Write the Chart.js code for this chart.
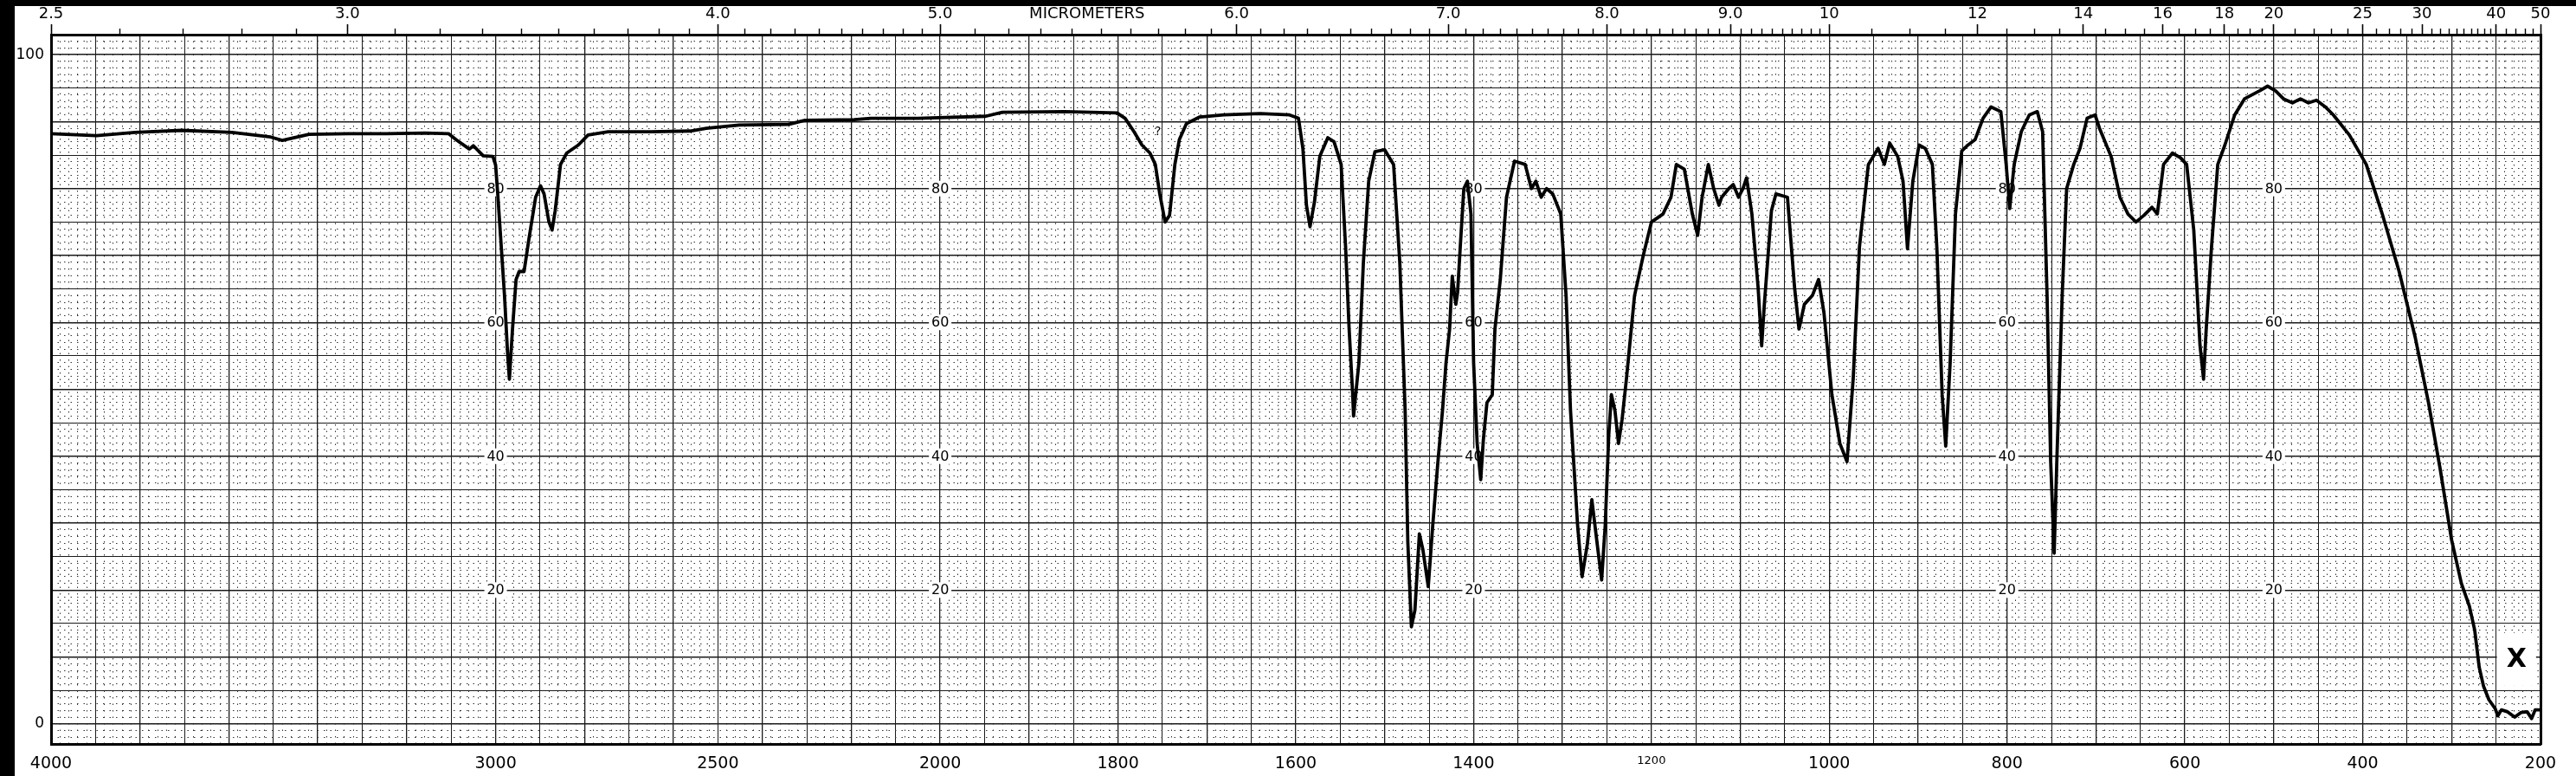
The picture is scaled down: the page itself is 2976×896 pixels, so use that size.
<!DOCTYPE html>
<html>
<head>
<meta charset="utf-8">
<script src="https://cdn.jsdelivr.net/npm/chart.js@4"></script>
<style>
  html, body { margin: 0; padding: 0; background: #fff; overflow: hidden; }
  canvas { display: block; }
</style>
</head>
<body>
<canvas id="spectrum" width="2976" height="896"></canvas>
<script>
// spectrum: wavenumber (cm-1) and % transmittance
const wavenumber = [
  4000, 3898, 3811, 3706, 3593, 3506, 3480, 3420, 3332, 3246,
  3158, 3106, 3089, 3059, 3050, 3028, 3006, 3000, 2995, 2980,
  2973, 2969, 2962, 2954, 2947, 2936, 2925, 2910, 2899, 2891,
  2880, 2873, 2866, 2854, 2840, 2814, 2792, 2747, 2650, 2562,
  2526, 2452, 2341, 2304, 2193, 2156, 2050, 1949, 1930, 1860,
  1801, 1792, 1782, 1773, 1764, 1758, 1753, 1747, 1742, 1736,
  1731, 1723, 1708, 1681, 1640, 1607, 1597, 1592, 1588, 1584,
  1579, 1573, 1564, 1557, 1549, 1544, 1540, 1536, 1535, 1529,
  1524, 1518, 1511, 1500, 1490, 1483, 1477, 1474, 1470, 1466,
  1461, 1457, 1451, 1446, 1440, 1435, 1431, 1427, 1424, 1420,
  1418, 1415, 1411, 1407, 1403, 1400, 1396, 1392, 1389, 1385,
  1379, 1376, 1370, 1363, 1354, 1342, 1335, 1330, 1324, 1318,
  1311, 1302, 1296, 1291, 1283, 1278, 1272, 1267, 1261, 1256,
  1252, 1248, 1245, 1241, 1237, 1233, 1228, 1219, 1209, 1200,
  1187, 1178, 1172, 1163, 1154, 1148, 1143, 1136, 1130, 1124,
  1121, 1113, 1108, 1102, 1097, 1093, 1087, 1080, 1076, 1073,
  1065, 1060, 1047, 1039, 1034, 1028, 1019, 1012, 1006, 997,
  988, 980, 973, 966, 956, 945, 938, 932, 923, 917,
  912, 906, 899, 892, 884, 879, 873, 869, 864, 858,
  851, 844, 836, 827, 818, 807, 801, 797, 792, 784,
  775, 766, 760, 755, 751, 747, 744, 738, 733, 725,
  718, 710, 701, 696, 683, 673, 664, 655, 646, 637,
  631, 624, 614, 605, 598, 590, 583, 579, 576, 570,
  563, 555, 544, 533, 516, 507, 498, 489, 479, 470,
  461, 452, 442, 433, 415, 396, 378, 359, 341, 326,
  313, 300, 289, 280, 274, 269, 264, 258, 251, 248,
  244, 237, 229, 222, 215, 210, 206, 200
];
const transmittance = [
  88.2, 87.9, 88.4, 88.7, 88.4, 87.7, 87.2, 88.1, 88.2, 88.2,
  88.3, 88.2, 87.3, 85.9, 86.4, 84.9, 84.8, 83.5, 79, 64,
  55.3, 51.5, 59, 66.4, 67.6, 67.6, 72.5, 78.7, 80.4, 79.2,
  75, 73.8, 76.7, 83.6, 85.3, 86.5, 88, 88.5, 88.5, 88.6,
  89, 89.5, 89.6, 90.2, 90.3, 90.5, 90.5, 90.8, 91.4, 91.5,
  91.3, 90.5, 88.5, 86.5, 85.3, 83.6, 79.2, 75, 76, 83.6,
  87.3, 89.7, 90.7, 91, 91.2, 91, 90.5, 86, 77.5, 74.3,
  78, 84.8, 87.6, 87, 83.6, 71.3, 59, 49.2, 46, 54,
  68.9, 81.1, 85.5, 85.8, 83.6, 68.9, 46.8, 27.2, 14.5, 17,
  28.4, 26, 20.5, 29.6, 39.4, 46.8, 54, 59, 66.9, 62.7,
  64.5, 71.3, 80, 81.1, 76.2, 54, 41.9, 36.5, 42.5, 48,
  49.2, 59, 66.4, 78.7, 84.1, 83.6, 80, 81.1, 78.7, 80,
  79.2, 76.2, 64, 46.8, 29.6, 22, 26.9, 33.5, 26.9, 21.5,
  29.6, 43.1, 49.2, 46.8, 41.9, 45.5, 51.7, 64, 70.1, 75,
  76.2, 78.7, 83.6, 82.9, 76.2, 73, 78.7, 83.6, 80, 77.5,
  78.7, 80, 80.6, 78.7, 80, 81.6, 76.2, 65.2, 56.5, 62.7,
  76.7, 79.2, 78.7, 65.2, 59, 62.7, 64, 66.4, 61.5, 49.2,
  41.9, 39.2, 51.7, 71.3, 83.6, 86, 83.6, 86.8, 84.8, 81.1,
  71, 81.1, 86.5, 86, 83.6, 71.3, 49.2, 41.5, 54, 76.2,
  85.6, 86.5, 87.3, 90.5, 92.2, 91.5, 83.6, 77, 83.6, 88.5,
  91, 91.5, 88.5, 64, 39.4, 25.5, 39.4, 64, 80, 83.6,
  86, 90.5, 91, 89, 84.8, 78.7, 76.2, 75, 76, 77.2,
  76.2, 83.6, 85.3, 84.6, 83.6, 73.8, 56.6, 51.5, 59, 71.3,
  83.6, 86.5, 91, 93.4, 94.6, 95.3, 94.6, 93.4, 92.8, 93.4,
  92.8, 93.2, 92.2, 91, 88, 83.6, 76.2, 67.6, 57.8, 48,
  38.2, 27.5, 21, 17.6, 14, 8.5, 5.6, 3.6, 2.3, 1.2,
  2.1, 1.8, 1.0, 1.7, 1.8, 0.8, 2.1, 2.1
];

// bottom axis labels (cm-1)
const wavenumberTicks = [4000, 3000, 2500, 2000, 1800, 1600, 1400, 1200, 1000, 800, 600, 400, 200];
// top axis labels (micrometers)
const micrometerTicks = [2.5, 3.0, 4.0, 5.0, 6.0, 7.0, 8.0, 9.0, 10, 12, 14, 16, 18, 20, 25, 30, 40, 50];
const micrometerLabels = ['2.5', '3.0', '4.0', '5.0', '6.0', '7.0', '8.0', '9.0', '10', '12', '14', '16', '18', '20', '25', '30', '40', '50'];
const micrometerMinor = [
  2.6, 2.7, 2.8, 2.9, 3.1, 3.2, 3.3, 3.4, 3.5, 3.6, 3.7, 3.8, 3.9,
  4.1, 4.2, 4.3, 4.4, 4.5, 4.6, 4.7, 4.8, 4.9, 5.1, 5.2, 5.3, 5.4, 5.5, 5.6, 5.7, 5.8, 5.9,
  6.1, 6.2, 6.3, 6.4, 6.5, 6.6, 6.7, 6.8, 6.9, 7.1, 7.2, 7.3, 7.4, 7.5, 7.6, 7.7, 7.8, 7.9,
  8.1, 8.2, 8.3, 8.4, 8.5, 8.6, 8.7, 8.8, 8.9, 9.1, 9.2, 9.3, 9.4, 9.5, 9.6, 9.7, 9.8, 9.9,
  10.5, 11, 11.5, 12.5, 13, 13.5, 14.5, 15, 15.5, 16.5, 17, 17.5, 18.5, 19, 19.5,
  21, 22, 23, 24, 26, 27, 28, 29, 31, 32, 33, 34, 35, 36, 37, 38, 39, 42, 44, 46, 48
];
const micrometerTitle = 'MICROMETERS';
const micrometerTitleAt = 5.45;

// % labels printed inside the grid, and the wavenumber columns that carry them
const innerLabelValues = [80, 60, 40, 20];
const innerLabelColumns = [3000, 2000, 1400, 800, 500];

const FONT = "'DejaVu Sans', sans-serif";

// chart paper changes scale at 2000 cm-1 (4000-2000 is half as wide per cm-1)
function toU(w) {
  return w >= 2000 ? (4000 - w) / 2 : 1000 + (2000 - w);
}

function fixedTicks(values) {
  return scale => { scale.ticks = values.map(v => ({ value: v })); };
}

// grid line positions
const xMajorGrid = [];
const xMinorGrid = [];
for (let u = 0; u <= 2800; u += 10) {
  if (u % 50 === 0) xMajorGrid.push(u); else xMinorGrid.push(u);
}
const yMajorGrid = [];
const yMinorGrid = [];
for (let t = -3; t <= 103; t++) {
  if (t % 5 === 0 && t >= 0 && t <= 100) yMajorGrid.push(t); else yMinorGrid.push(t);
}

const topPositions = [];
const topLabels = [];
micrometerTicks.forEach((m, i) => {
  topPositions.push(toU(10000 / m));
  topLabels.push(micrometerLabels[i]);
  if (m === 5.0) {
    topPositions.push(toU(10000 / micrometerTitleAt));
    topLabels.push(micrometerTitle);
  }
});

const paperPlugin = {
  id: 'paper',
  beforeDraw(chart) {
    const ctx = chart.ctx;
    ctx.save();
    ctx.fillStyle = '#fff';
    ctx.fillRect(0, 0, chart.width, chart.height);
    ctx.restore();
  },
  beforeDatasetsDraw(chart) {
    const ctx = chart.ctx;
    const x = chart.scales.x;
    const y = chart.scales.y;
    ctx.save();
    // printed % values on the grid
    ctx.font = '16px ' + FONT;
    ctx.textAlign = 'center';
    ctx.textBaseline = 'middle';
    innerLabelColumns.forEach(w => {
      const px = x.getPixelForValue(toU(w));
      innerLabelValues.forEach(v => {
        const py = y.getPixelForValue(v);
        ctx.fillStyle = '#fff';
        ctx.fillRect(px - 13, py - 9, 26, 18);
        ctx.fillStyle = '#000';
        ctx.fillText(String(v), px, py + 1);
      });
    });
    // sample tag box
    const bx1 = x.getPixelForValue(toU(249));
    const bx2 = x.getPixelForValue(toU(205));
    const by1 = y.getPixelForValue(13.6);
    const by2 = y.getPixelForValue(5.7);
    ctx.fillStyle = '#fff';
    ctx.fillRect(bx1, by1, bx2 - bx1, by2 - by1);
    ctx.fillStyle = '#000';
    ctx.font = 'bold 30px ' + FONT;
    ctx.fillText('X', (bx1 + bx2) / 2, (by1 + by2) / 2 + 1);
    // pencilled question mark
    ctx.font = '14px ' + FONT;
    ctx.fillText('?', x.getPixelForValue(toU(1755)), y.getPixelForValue(88.5));
    ctx.restore();
  },
  afterDraw(chart) {
    const ctx = chart.ctx;
    ctx.save();
    ctx.fillStyle = '#000';
    ctx.fillRect(0, 0, 17, chart.height);
    ctx.fillRect(0, 0, chart.width, 7);
    ctx.restore();
  }
};

const ctx = document.getElementById('spectrum').getContext('2d');
const chart = new Chart(ctx, {
  type: 'line',
  data: {
    datasets: [{
      data: wavenumber.map((w, i) => ({ x: toU(w), y: transmittance[i] })),
      borderColor: '#000',
      borderWidth: 3.8,
      pointRadius: 0,
      tension: 0,
      fill: false,
      borderJoinStyle: 'round',
      xAxisID: 'x',
      yAxisID: 'y'
    }]
  },
  options: {
    responsive: false,
    animation: false,
    devicePixelRatio: 1,
    layout: { padding: { left: 0, right: 41, top: 0, bottom: 0 } },
    plugins: { legend: { display: false }, tooltip: { enabled: false } },
    scales: {
      x: {
        type: 'linear', position: 'bottom', min: 0, max: 2800, weight: 1,
        afterBuildTicks: fixedTicks(wavenumberTicks.map(toU)),
        afterFit: s => { s.height = 37; },
        ticks: {
          autoSkip: false, maxRotation: 0, padding: 12, color: '#000',
          font: c => ({ family: FONT, size: wavenumberTicks[c.index] === 1200 ? 13 : 19 }),
          callback: (v, i) => String(wavenumberTicks[i])
        },
        grid: { drawOnChartArea: false, drawTicks: false },
        border: { display: true, color: '#000', width: 3 }
      },
      xg: {
        type: 'linear', position: 'bottom', min: 0, max: 2800, weight: 0,
        afterBuildTicks: fixedTicks(xMajorGrid),
        afterFit: s => { s.height = 0; },
        ticks: { display: false },
        grid: { color: '#1a1a1a', lineWidth: c => (c.tick && c.tick.value % 100 === 0) ? 1.3 : 1, drawTicks: false },
        border: { display: false }
      },
      xm: {
        type: 'linear', position: 'bottom', min: 0, max: 2800, weight: 0,
        afterBuildTicks: fixedTicks(xMinorGrid),
        afterFit: s => { s.height = 0; },
        ticks: { display: false },
        grid: { color: '#333', lineWidth: 1, drawTicks: false },
        border: { display: false, dash: [1.5, 6] }
      },
      xTop: {
        type: 'linear', position: 'top', min: 0, max: 2800, weight: 1,
        afterBuildTicks: fixedTicks(topPositions),
        afterFit: s => { s.height = 40; },
        ticks: {
          autoSkip: false, maxRotation: 0, padding: 1, color: '#000',
          font: { family: FONT, size: 18 },
          callback: (v, i) => topLabels[i]
        },
        grid: {
          drawOnChartArea: false, drawTicks: true, tickLength: 12, tickWidth: 1.6,
          tickColor: c => topLabels[c.index] === micrometerTitle ? 'rgba(0,0,0,0)' : '#000'
        },
        border: { display: true, color: '#000', width: 3 }
      },
      xTopMinor: {
        type: 'linear', position: 'top', min: 0, max: 2800, weight: 0,
        afterBuildTicks: fixedTicks(micrometerMinor.map(m => toU(10000 / m))),
        afterFit: s => { s.height = 0; },
        ticks: { display: false },
        grid: { drawOnChartArea: false, drawTicks: true, tickLength: 7, tickWidth: 1.4, tickColor: '#000' },
        border: { display: false }
      },
      y: {
        type: 'linear', position: 'left', min: -3, max: 103, weight: 1,
        afterBuildTicks: fixedTicks(yMajorGrid),
        afterFit: s => { s.width = 59; },
        ticks: {
          autoSkip: false, padding: 8, color: '#000',
          font: { family: FONT, size: 17 },
          callback: v => (v === 0 || v === 100) ? String(v) : ''
        },
        grid: { color: '#1a1a1a', lineWidth: c => (c.tick && c.tick.value % 10 === 0) ? 1.4 : 1, drawTicks: false },
        border: { display: true, color: '#000', width: 3 }
      },
      ym: {
        type: 'linear', position: 'left', min: -3, max: 103, weight: 0,
        afterBuildTicks: fixedTicks(yMinorGrid),
        afterFit: s => { s.width = 0; },
        ticks: { display: false },
        grid: { color: '#333', lineWidth: 1, drawTicks: false },
        border: { display: false, dash: [1.5, 6] }
      },
      yRight: {
        type: 'linear', position: 'right', min: -3, max: 103,
        afterFit: s => { s.width = 0; },
        ticks: { display: false },
        grid: { drawOnChartArea: false, drawTicks: false },
        border: { display: true, color: '#000', width: 3 }
      }
    }
  },
  plugins: [paperPlugin]
});
</script>
</body>
</html>
